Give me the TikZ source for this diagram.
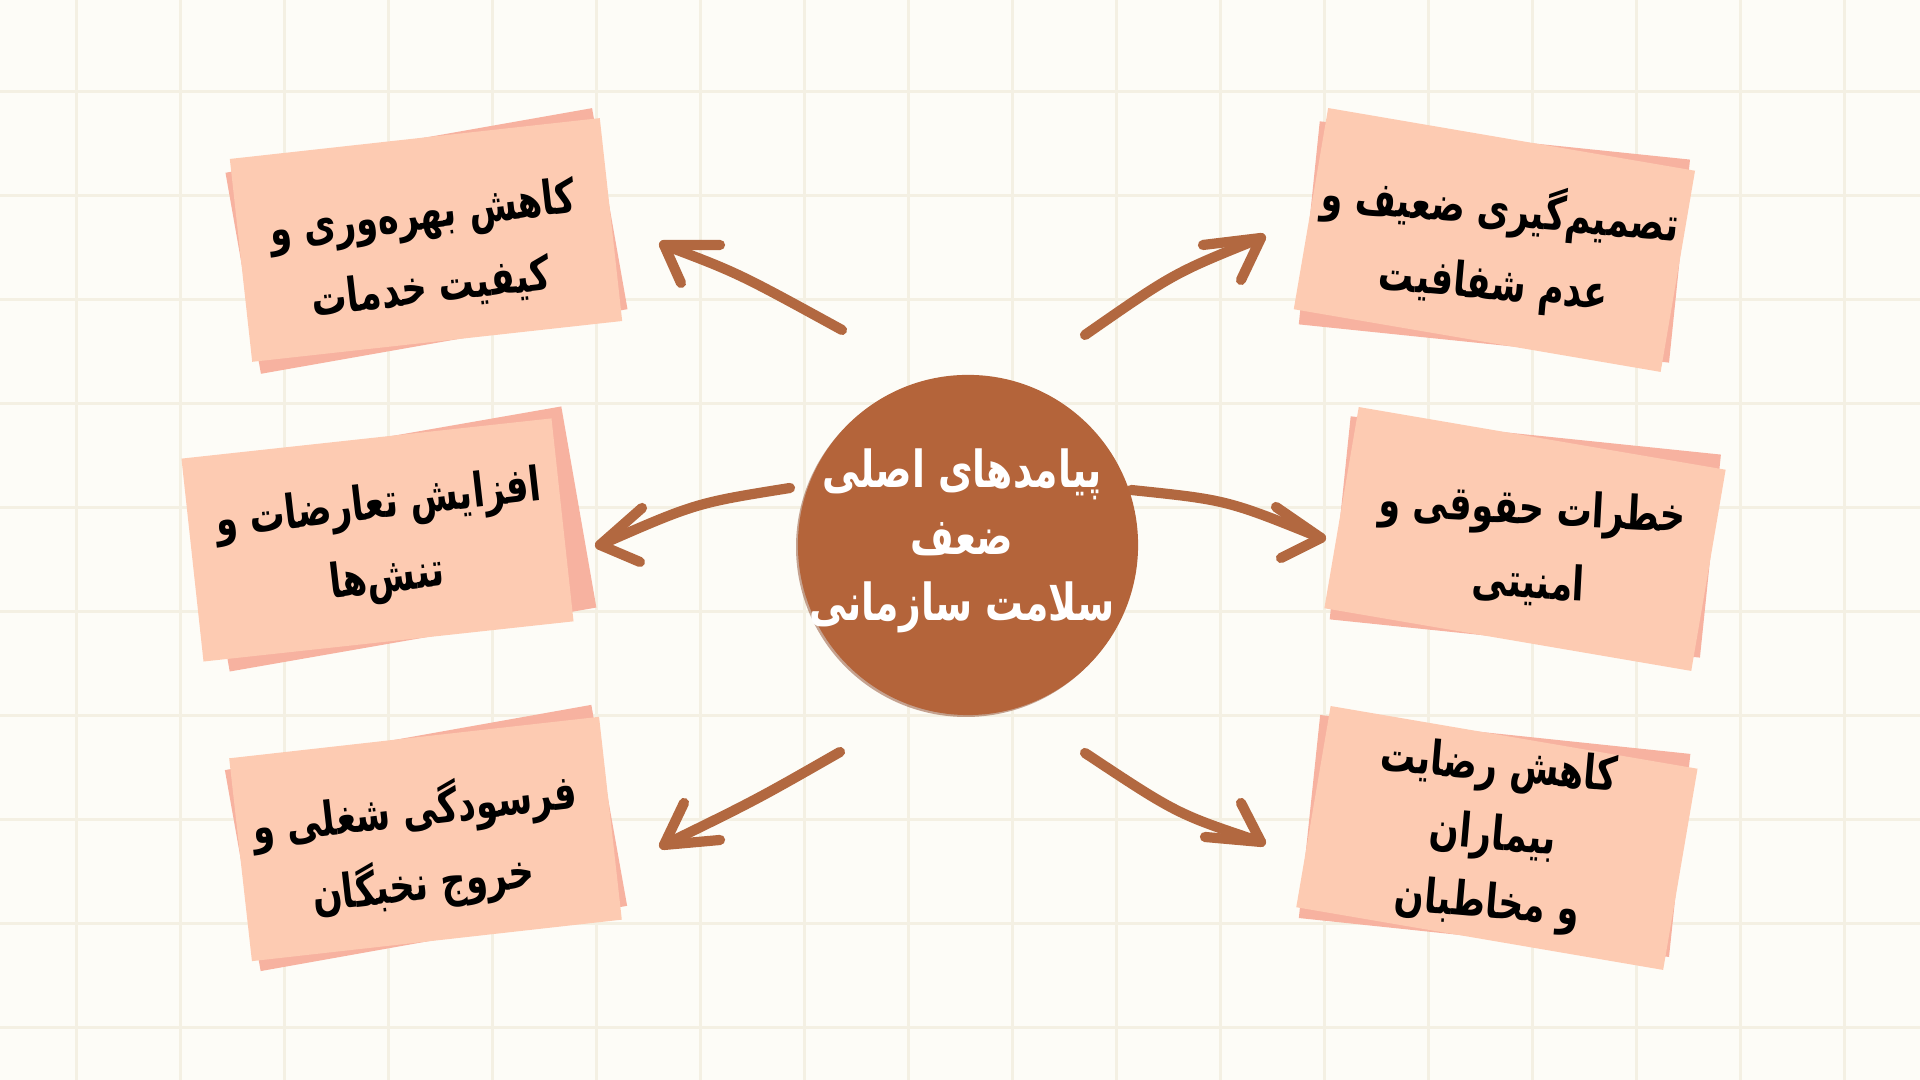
\documentclass[tikz,border=0pt]{standalone}
\usepackage{fontspec}
\newfontfamily\arabicfont[Script=Arabic,FakeStretch=0.74]{DejaVu Sans}
\TeXXeTstate=1
\definecolor{bgc}{HTML}{FDFCF7}
\definecolor{gridc}{HTML}{F4F0E3}
\definecolor{cardfront}{HTML}{FDCBB2}
\definecolor{cardback}{HTML}{F7B2A0}
\definecolor{hubc}{HTML}{B4643A}
\definecolor{hubshade}{HTML}{8E4A2A}
\definecolor{arrowc}{HTML}{B26840}
\tikzset{
  gridline/.style={draw=gridc, line width=0.6pt},
  backcard/.style={fill=cardback, minimum width=3.72cm, minimum height=2.04cm, inner sep=0pt},
  frontcard/.style={fill=cardfront, minimum width=3.72cm, minimum height=2.04cm, inner sep=0pt},
  cardtext/.style={font=\arabicfont\bfseries\fontsize{13.5}{21}\selectfont, align=center, text=black, inner sep=0pt},
  hubdisc/.style={circle, fill=hubc, minimum size=3.4cm, inner sep=0pt},
  hubtext/.style={align=center, text=white, inner sep=0pt,
    font=\arabicfont\bfseries\fontsize{14.5}{19}\selectfont},
  conn/.style={draw=arrowc, line width=2.9pt, line cap=round, line join=round},
}
\begin{document}
\begin{tikzpicture}[x=0.01cm,y=0.01cm]
\useasboundingbox (0,0) rectangle (1920,1080);
\fill[bgc] (0,0) rectangle (1920,1080);
\foreach \i in {0,...,17} \draw[gridline] ({76.5+104*\i},0) -- ({76.5+104*\i},1080);
\foreach \j in {0,...,9} \draw[gridline] (0,{988.5-104*\j}) -- (1920,{988.5-104*\j});

% arrow coordinates
\coordinate (s1) at (842,750);   \coordinate (c1) at (738,807);   \coordinate (t1) at (664,835);
\coordinate (h1a) at (720,835);  \coordinate (h1b) at (681,797);
\coordinate (s2) at (1085,745);  \coordinate (c2) at (1174,807);  \coordinate (t2) at (1261,842);
\coordinate (h2a) at (1203,835); \coordinate (h2b) at (1241,800);
\coordinate (s3) at (790,592);   \coordinate (c3) at (696,577);   \coordinate (t3) at (600,535);
\coordinate (h3a) at (642,572);  \coordinate (h3b) at (640,518);
\coordinate (s4) at (1131,590);  \coordinate (c4) at (1227,580);  \coordinate (t4) at (1321,542);
\coordinate (h4a) at (1276,573); \coordinate (h4b) at (1281,522);
\coordinate (s5) at (840,328);   \coordinate (c5) at (756,280);   \coordinate (t5) at (664,235);
\coordinate (h5a) at (684,277);  \coordinate (h5b) at (720,240);
\coordinate (s6) at (1085,327);  \coordinate (c6) at (1177,266);  \coordinate (t6) at (1261,238);
\coordinate (h6a) at (1241,277); \coordinate (h6b) at (1205,243);

\draw[conn] (s1) .. controls (c1) .. (t1);  \draw[conn] (h1a) -- (t1) -- (h1b);
\draw[conn] (s2) .. controls (c2) .. (t2);  \draw[conn] (h2a) -- (t2) -- (h2b);
\draw[conn] (s3) .. controls (c3) .. (t3);  \draw[conn] (h3a) -- (t3) -- (h3b);
\draw[conn] (s4) .. controls (c4) .. (t4);  \draw[conn] (h4a) -- (t4) -- (h4b);
\draw[conn] (s5) .. controls (c5) .. (t5);  \draw[conn] (h5a) -- (t5) -- (h5b);
\draw[conn] (s6) .. controls (c6) .. (t6);  \draw[conn] (h6a) -- (t6) -- (h6b);

% card 1 (top left)
\node[backcard, rotate=10] (k1b) at (426.5,839) {};
\node[frontcard, rotate=6.3] (k1) at (426,840) {};
\node[cardtext, rotate=6.5] (k1t) at (427,828) {\beginR کاهش بهره‌وری و\endR\\\beginR کیفیت خدمات\endR};
% card 2 (top right)
\node[backcard, rotate=-5.9] (k2b) at (1494.4,838) {};
\node[frontcard, rotate=-9.7] (k2) at (1494.4,840) {};
\node[cardtext, rotate=-5] (k2t) at (1497,833) {\beginR تصمیم‌گیری ضعیف و\endR\\\beginR عدم شفافیت\endR};
% card 3 (middle left)
\node[backcard, rotate=9.9] (k3b) at (395.5,541) {};
\node[frontcard, rotate=6.2] (k3) at (377.5,540) {};
\node[cardtext, rotate=6.5] (k3t) at (383,537) {\beginR افزایش تعارضات و\endR\\\beginR تنش‌ها\endR};
% card 4 (middle right)
\node[backcard, rotate=-5.9] (k4b) at (1525.3,543) {};
\node[frontcard, rotate=-9.7] (k4) at (1525,541) {};
\node[cardtext, rotate=-3] (k4t) at (1530.5,533) {\beginR خطرات حقوقی و\endR\\\beginR امنیتی\endR};
% card 5 (bottom left)
\node[backcard, rotate=10.1] (k5b) at (426,242) {};
\node[frontcard, rotate=6.4] (k5) at (425.5,241) {};
\node[cardtext, rotate=6.5] (k5t) at (419,233) {\beginR فرسودگی شغلی و\endR\\\beginR خروج نخبگان\endR};
% card 6 (bottom right)
\node[backcard, rotate=-6] (k6b) at (1494.6,244) {};
\node[frontcard, rotate=-9.7] (k6) at (1496.9,242) {};
\node[cardtext, rotate=-5, font=\arabicfont\bfseries\fontsize{13.5}{19.5}\selectfont] (k6t) at (1493,243) {\beginR کاهش رضایت\endR\\\beginR بیماران\endR\\\beginR و مخاطبان\endR};

% hub
\fill[hubshade, opacity=0.5] (966,533) circle (170);
\node[hubdisc] (hub) at (968,535) {};
\node[hubtext] (hubt) at (962,539) {\beginR پیامدهای اصلی\endR\\\beginR ضعف\endR\\\beginR سلامت سازمانی\endR};
\end{tikzpicture}
\end{document}
